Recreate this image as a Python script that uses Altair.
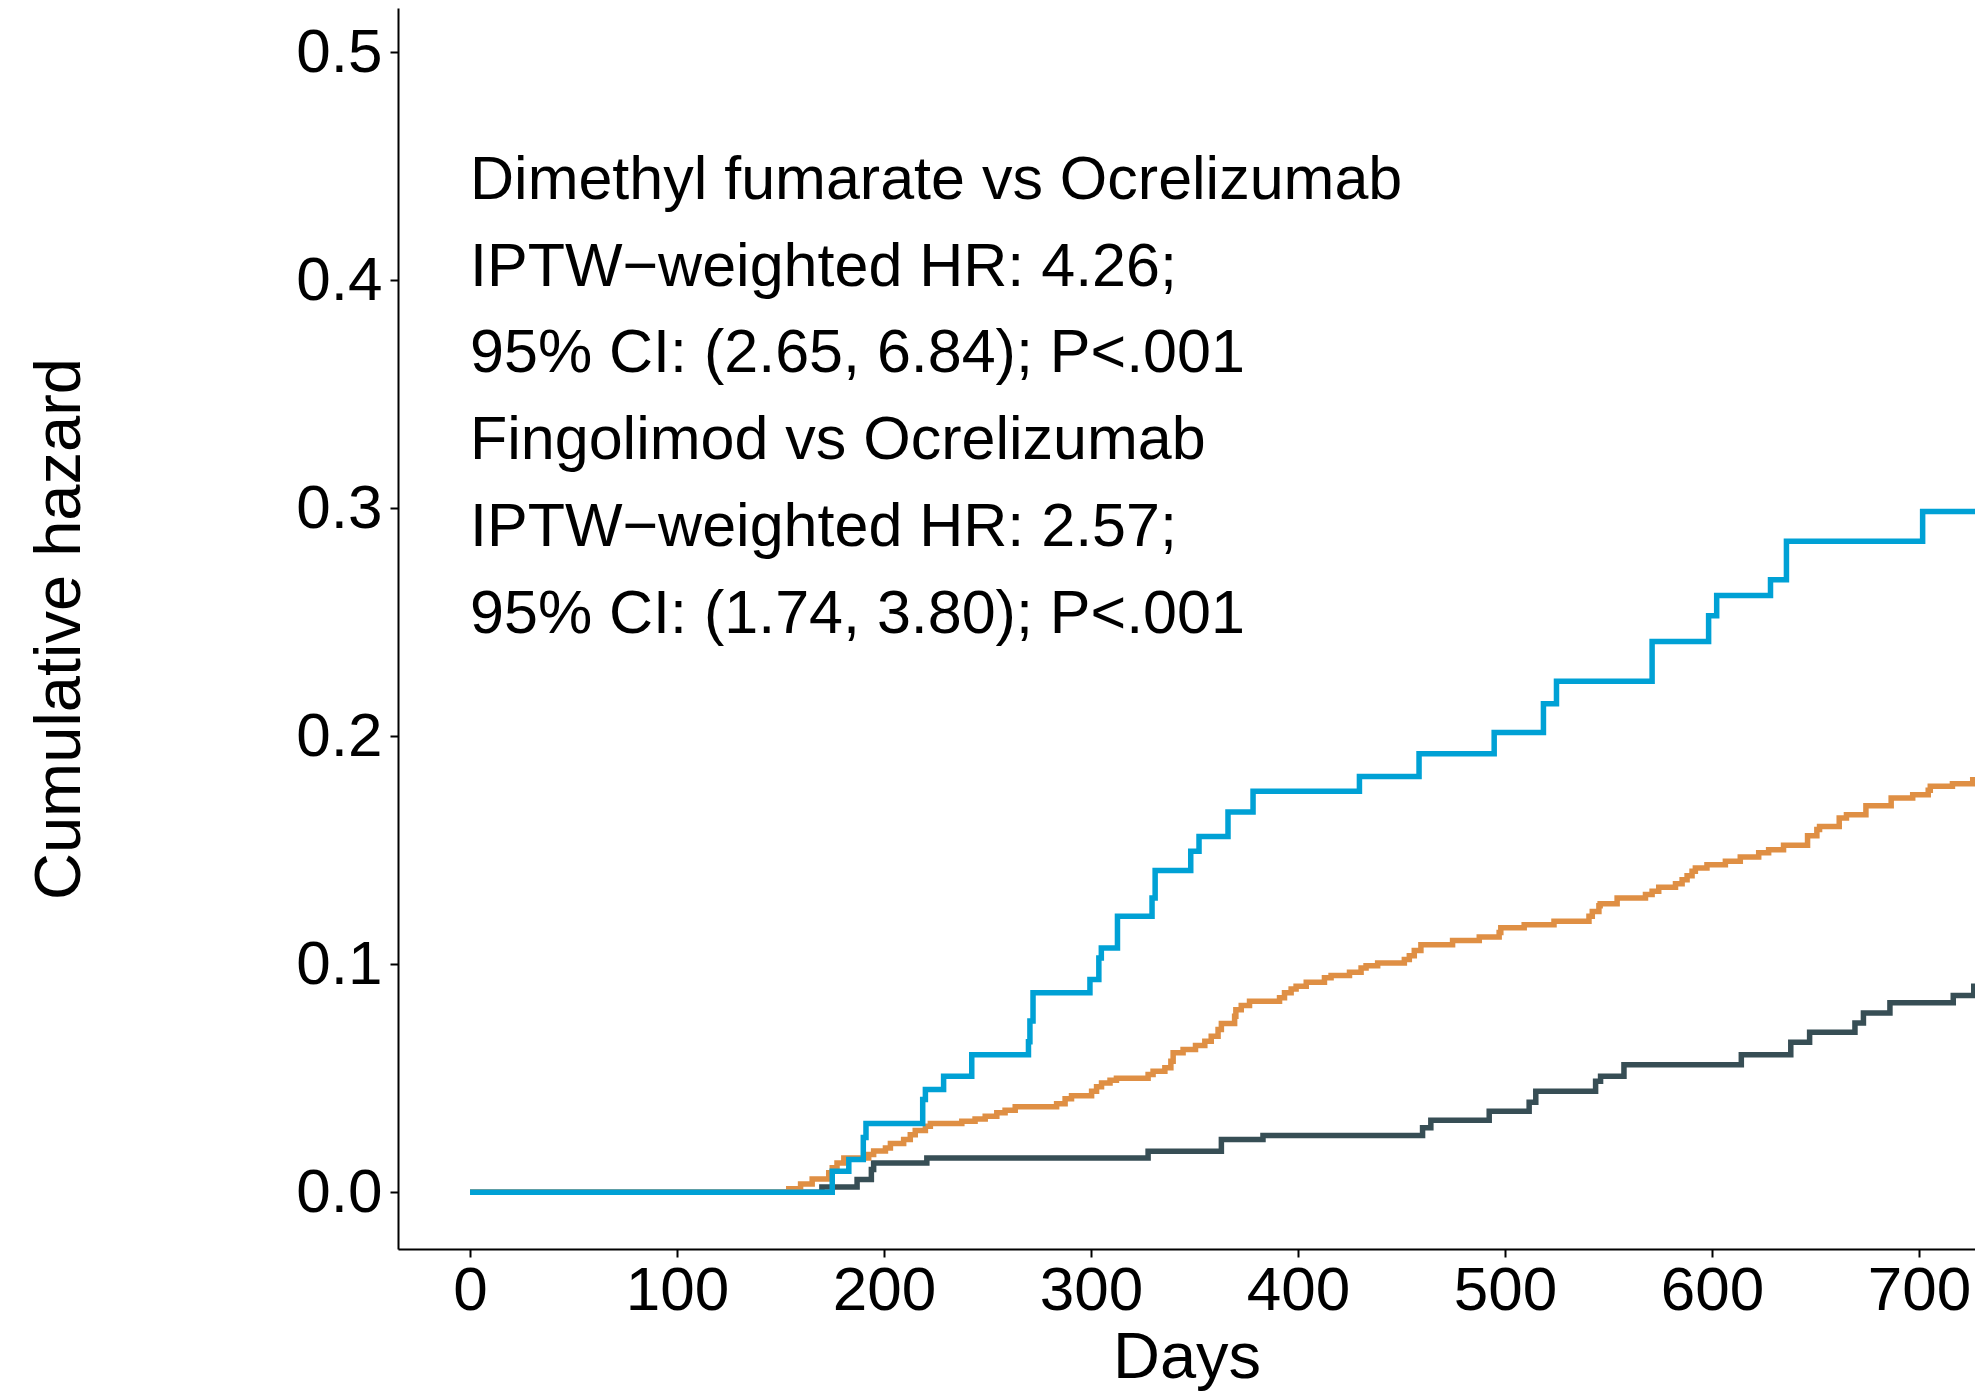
import altair as alt
import pandas as pd

# ---- data (days, cumulative hazard) ----
dmf_days = [0, 175, 183, 190, 191.3, 218.7, 220, 228.8, 242.4, 269.8, 270.5, 272,
            299.5, 303.8, 305, 312.8, 329.5, 331, 348.2, 352.2, 366.2, 378.3, 429.7,
            458.5, 494.8, 518.6, 524.9, 571.1, 598.4, 602.3, 628.3, 636, 701.8, 730]
dmf_vals = [0, 0.0092, 0.0143, 0.024, 0.0301, 0.0406, 0.045, 0.0508, 0.0603, 0.066,
            0.075, 0.0874, 0.0932, 0.1027, 0.1071, 0.121, 0.129, 0.1411, 0.1495, 0.156,
            0.1667, 0.1758, 0.1823, 0.1923, 0.2016, 0.2142, 0.224, 0.2415, 0.2528,
            0.2617, 0.2686, 0.2854, 0.2985, 0.2985]

fin_days = [0, 154, 159.7, 165.3, 173.3, 175, 177.3, 180.6, 192.6, 195, 200.7, 203.1,
            209.5, 212.7, 215.1, 220, 222.4, 237.6, 244, 248.9, 254.5, 258.5, 263.4,
            283.4, 287.5, 290.6, 300.3, 302.7, 305.1, 309.2, 312.3, 327.6, 330, 335.7,
            338.6, 339.7, 344.5, 350.5, 355, 358.1, 361.4, 363, 369.4, 370, 372.6, 376.6,
            391.1, 393.5, 396.7, 399.1, 404, 412.8, 416, 424.9, 430.5, 432.9, 438.5,
            451.4, 453.8, 456.2, 459.4, 474.7, 487.6, 497.2, 498, 509.3, 523.7, 540.6,
            542.2, 545.4, 546, 554.2, 567.9, 571.1, 574.3, 582.4, 585.6, 588, 590.4, 592,
            597.6, 606.5, 613.7, 622.6, 627.4, 634.6, 646.2, 650.7, 652, 661.5, 665,
            674.4, 686.6, 697, 704.5, 705.5, 716.2, 726, 730]
fin_vals = [0, 0.0015, 0.0036, 0.0058, 0.0085, 0.0107, 0.0128, 0.015, 0.0165, 0.018,
            0.0194, 0.0213, 0.0231, 0.0252, 0.027, 0.0289, 0.0301, 0.0311, 0.0321, 0.0333,
            0.0348, 0.0359, 0.0374, 0.0388, 0.0409, 0.0423, 0.0442, 0.0462, 0.0479, 0.0491,
            0.0499, 0.0516, 0.053, 0.0545, 0.0574, 0.0611, 0.0625, 0.0643, 0.0662, 0.0684,
            0.0713, 0.0739, 0.0771, 0.08, 0.0818, 0.0837, 0.0852, 0.0874, 0.0891, 0.0903,
            0.092, 0.094, 0.095, 0.0964, 0.0983, 0.0993, 0.1005, 0.102, 0.1037, 0.106,
            0.1085, 0.1104, 0.1119, 0.1139, 0.1159, 0.1173, 0.1188, 0.121, 0.1231, 0.1256,
            0.1265, 0.129, 0.1305, 0.1319, 0.1337, 0.1352, 0.137, 0.1388, 0.1407, 0.1422,
            0.1436, 0.1451, 0.147, 0.1488, 0.1502, 0.1521, 0.1563, 0.159, 0.1604, 0.1641,
            0.1655, 0.1695, 0.1729, 0.1743, 0.1762, 0.178, 0.1791, 0.1809, 0.1809]

ocr_days = [0, 170, 187, 193.9, 195, 220.7, 327.6, 363, 383.1, 460.2, 464.2, 492.4,
            511.7, 514.9, 543.8, 546.2, 557.5, 614.2, 638.1, 647.2, 669.1, 673.2, 686,
            716.6, 726.5, 730]
ocr_vals = [0, 0.0023, 0.0055, 0.0099, 0.0128, 0.015, 0.0179, 0.0231, 0.0248, 0.0282,
            0.0315, 0.0355, 0.0394, 0.0442, 0.0486, 0.0508, 0.0559, 0.0603, 0.0657, 0.0701,
            0.0742, 0.0786, 0.083, 0.0862, 0.0903, 0.0903]

annot_lines = [
    "Dimethyl fumarate vs Ocrelizumab",
    "IPTW\u2212weighted HR: 4.26;",
    "95% CI: (2.65, 6.84); P<.001",
    "Fingolimod vs Ocrelizumab",
    "IPTW\u2212weighted HR: 2.57;",
    "95% CI: (1.74, 3.80); P<.001",
]
annot_y = [0.4357, 0.3976, 0.3595, 0.3214, 0.2833, 0.2452]
annot_x = [0, 0, 0, 0, 0, 0]

x_ticks = [0, 100, 200, 300, 400, 500, 600, 700]
y_ticks = [0.0, 0.1, 0.2, 0.3, 0.4, 0.5]

FONT = "Liberation Sans"

x_scale = alt.Scale(domain=[-34.8, 727.1], nice=False, zero=False)
y_scale = alt.Scale(domain=[-0.02494, 0.5193], nice=False, zero=False)

x_axis = alt.Axis(values=x_ticks, title="Days", grid=False, tickSize=8, tickWidth=2,
                  tickColor="black", domainColor="black", domainWidth=2,
                  labelFontSize=62, labelFont=FONT, labelColor="black", labelPadding=3,
                  titleFontSize=65, titleFont=FONT, titleFontWeight="normal",
                  titleColor="black", titlePadding=5, labelFlush=False)
y_axis = alt.Axis(values=y_ticks, format=".1f", title="Cumulative hazard", grid=False,
                  tickSize=8, tickWidth=2, tickColor="black", domainColor="black",
                  domainWidth=2, labelFontSize=62, labelFont=FONT, labelColor="black",
                  labelPadding=8, titleFontSize=65, titleFont=FONT,
                  titleFontWeight="normal", titleColor="black", titlePadding=202,
                  labelFlush=False)


def curve(days, vals, color):
    df = pd.DataFrame({"day": days, "hazard": vals})
    return alt.Chart(df).mark_line(
        interpolate="step-after", color=color, strokeWidth=5.5, clip=True
    ).encode(
        x=alt.X("day:Q", scale=x_scale, axis=x_axis, title="Days"),
        y=alt.Y("hazard:Q", scale=y_scale, axis=y_axis, title="Cumulative hazard"),
    )


ocr = curve(ocr_days, ocr_vals, "#374E55")
fin = curve(fin_days, fin_vals, "#DF8F44")
dmf = curve(dmf_days, dmf_vals, "#00A1D5")

annot_df = pd.DataFrame({"day": annot_x, "hazard": annot_y, "label": annot_lines})
annot = alt.Chart(annot_df).mark_text(
    align="left", baseline="alphabetic", font=FONT, fontSize=61, color="black"
).encode(
    x=alt.X("day:Q", scale=x_scale, axis=x_axis, title="Days"),
    y=alt.Y("hazard:Q", scale=y_scale, axis=y_axis, title="Cumulative hazard"),
    text="label:N",
)

chart = alt.layer(ocr, fin, dmf, annot).properties(
    width=1577,
    height=1241,
    autosize=alt.AutoSizeParams(type="none"),
    padding={"left": 390, "top": 0, "right": 0, "bottom": 142},
    background="white",
).configure_view(stroke=None)

chart.save("out.html", embed_options={"renderer": "svg", "actions": False})
